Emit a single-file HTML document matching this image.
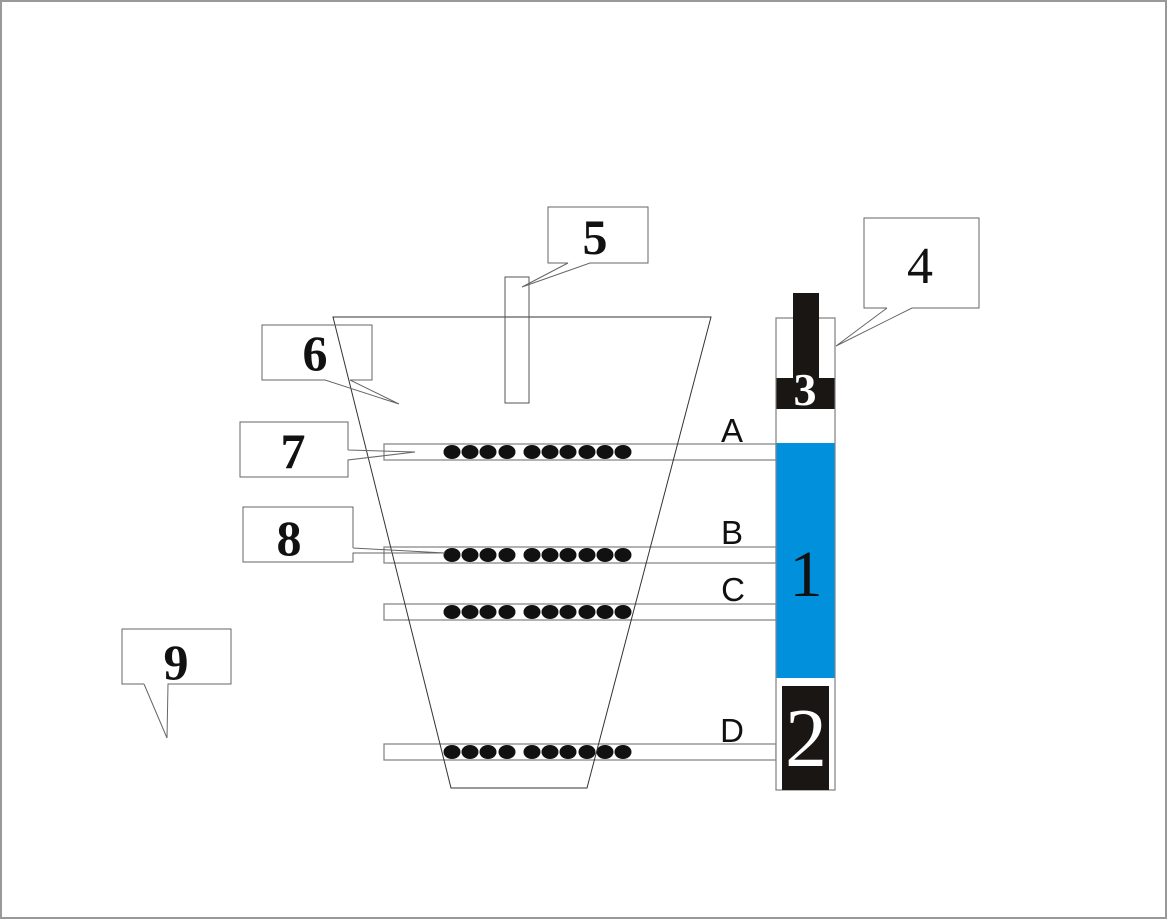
<!DOCTYPE html>
<html><head><meta charset="utf-8"><style>
html,body{margin:0;padding:0;background:#fff;}
svg{display:block;}
.n{font-family:"Liberation Serif",serif;font-weight:bold;fill:#111;}
.l{font-family:"Liberation Sans",sans-serif;fill:#111;}
</style></head><body>
<svg width="1168" height="920" viewBox="0 0 1168 920" xmlns="http://www.w3.org/2000/svg">
<rect x="1" y="1" width="1165" height="917" fill="#fff" stroke="#999" stroke-width="2"/>
<g fill="#fff" stroke="#888" stroke-width="1.3">
<rect x="384" y="444" width="392" height="16"/>
<rect x="384" y="547" width="392" height="16"/>
<rect x="384" y="604" width="392" height="16"/>
<rect x="384" y="744" width="392" height="16"/>
</g>
<g fill="#111">
<g id="d"><ellipse cx="452" cy="452" rx="8.5" ry="7"/><ellipse cx="470" cy="452" rx="8.5" ry="7"/><ellipse cx="488" cy="452" rx="8.5" ry="7"/><ellipse cx="507" cy="452" rx="8.5" ry="7"/><ellipse cx="532" cy="452" rx="8.5" ry="7"/><ellipse cx="550" cy="452" rx="8.5" ry="7"/><ellipse cx="568" cy="452" rx="8.5" ry="7"/><ellipse cx="587" cy="452" rx="8.5" ry="7"/><ellipse cx="605" cy="452" rx="8.5" ry="7"/><ellipse cx="623" cy="452" rx="8.5" ry="7"/></g>
<use href="#d" y="103"/><use href="#d" y="160"/><use href="#d" y="300"/>
</g>
<polygon points="333,317 711,317 587,788 451,788" fill="none" stroke="#333" stroke-width="1"/>
<rect x="505" y="277" width="24" height="126" fill="none" stroke="#555" stroke-width="1"/>
<rect x="776" y="318" width="59" height="472" fill="#fff" stroke="#888" stroke-width="1.3"/>
<rect x="776.5" y="443" width="58" height="235" fill="#0090dc"/>
<rect x="793" y="293" width="26" height="90" fill="#1a1614"/>
<rect x="776.5" y="378" width="58" height="31" fill="#1a1614"/>
<rect x="782" y="686" width="47" height="104" fill="#1a1614"/>
<text x="805" y="405" class="n" font-size="46" style="fill:#fff" text-anchor="middle">3</text>
<text x="806" y="596" font-family="Liberation Serif,serif" font-size="66" fill="#111" text-anchor="middle">1</text>
<text x="806" y="766" font-family="Liberation Serif,serif" font-size="84" style="fill:#fff" text-anchor="middle">2</text>
<text x="732" y="442" class="l" font-size="33" text-anchor="middle">A</text>
<text x="732" y="544" class="l" font-size="33" text-anchor="middle">B</text>
<text x="733" y="601" class="l" font-size="33" text-anchor="middle">C</text>
<text x="732" y="742" class="l" font-size="33" text-anchor="middle">D</text>
<g fill="none" stroke="#666" stroke-width="1">
<polyline points="568,263 548,263 548,207 648,207 648,263 590,263 522,287 568,263"/>
<polyline points="887,308 864,308 864,218 979,218 979,308 912,308 836,346 887,308"/>
<polyline points="325,380 262,380 262,325 372,325 372,380 350,380 399,404 325,380"/>
<polyline points="348,450 348,422 240,422 240,477 348,477 348,460 415,452 348,450"/>
<polyline points="353,548 353,507 243,507 243,562 353,562 353,553 445,553 353,548"/>
<polyline points="144,684 122,684 122,629 231,629 231,684 168,684 167,738 144,684"/>
</g>
<text x="595" y="254" class="n" font-size="50" text-anchor="middle">5</text>
<text x="920" y="283" font-family="Liberation Serif,serif" font-size="52" fill="#111" text-anchor="middle">4</text>
<text x="315" y="370" class="n" font-size="50" text-anchor="middle">6</text>
<text x="293" y="468" class="n" font-size="50" text-anchor="middle">7</text>
<text x="289" y="555" class="n" font-size="50" text-anchor="middle">8</text>
<text x="176" y="679" class="n" font-size="50" text-anchor="middle">9</text>
</svg>
</body></html>
